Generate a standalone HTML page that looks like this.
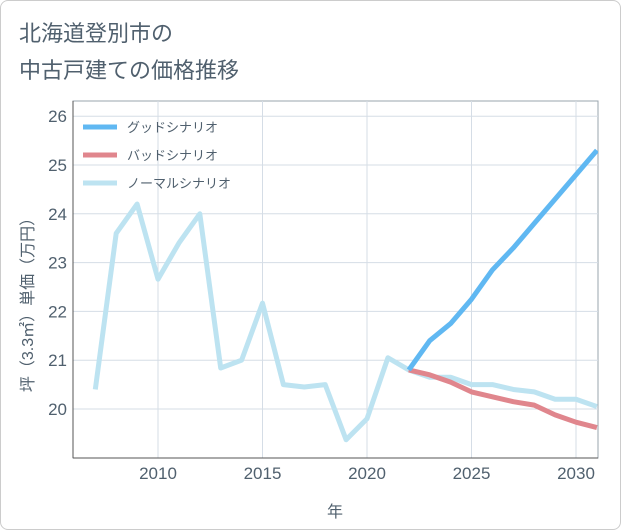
<!DOCTYPE html>
<html><head><meta charset="utf-8"><style>
body{margin:0;background:#fff;font-family:"Liberation Sans","Noto Sans CJK JP",sans-serif;}
#wrap{position:relative;width:619px;height:528px;border:1px solid #ccc;border-radius:8px;overflow:hidden;background:#fff}
</style></head><body>
<div id="wrap">
<svg id="c" width="621" height="530"></svg>
</div>
<script>
const years=[2007,2008,2009,2010,2011,2012,2013,2014,2015,2016,2017,2018,2019,2020,2021,2022,2023,2024,2025,2026,2027,2028,2029,2030,2031];
const normal=[20.4,23.6,24.2,22.66,23.4,24.0,20.84,21.0,22.17,20.5,20.45,20.5,19.37,19.8,21.05,20.8,20.65,20.65,20.5,20.5,20.4,20.35,20.2,20.2,20.05];
const goodYears=[2022,2023,2024,2025,2026,2027,2028,2029,2030,2031];
const good=[20.8,21.4,21.75,22.25,22.85,23.3,23.8,24.3,24.8,25.3];
const bad=[20.8,20.7,20.55,20.35,20.25,20.15,20.08,19.88,19.73,19.62];
const yTicks=[20,21,22,23,24,25,26];
const xTicks=[2010,2015,2020,2025,2030];
const NS="http://www.w3.org/2000/svg",s=document.getElementById('c');
const L=72,R=597,T=100,B=457,TC='#50606e';
const x=v=>157+(v-2010)*20.9, y=v=>408-(v-20)*48.8;
function el(t,a,p){const e=document.createElementNS(NS,t);for(const k in a)e.setAttribute(k,a[k]);(p||s).appendChild(e);return e;}
function tx(str,a){const e=el('text',a);e.textContent=str;return e;}
let t=tx('北海道登別市の',{x:18,y:40,'font-size':22,fill:TC});

t=tx('中古戸建ての価格推移',{x:18,y:77,'font-size':22,fill:TC});

let r=el('rect',{x:L,y:T,width:R-L,height:B-T,fill:'none',stroke:'#9aa4ae','stroke-width':1});

yTicks.forEach(v=>{let g=el('line',{x1:L,x2:R,y1:y(v),y2:y(v),stroke:'#d5dde6'});

let l=tx(v,{x:66,y:y(v)+6,'font-size':17,fill:TC,'text-anchor':'end'});
});
xTicks.forEach(v=>{let g=el('line',{x1:x(v),x2:x(v),y1:T,y2:B,stroke:'#d5dde6'});

let l=tx(v,{x:x(v),y:478,'font-size':17,fill:TC,'text-anchor':'middle'});
});
let ax=el('line',{x1:L,x2:L,y1:T,y2:B,stroke:'#555'});

ax=el('line',{x1:L,x2:R,y1:B,y2:B,stroke:'#555'});

t=tx('年',{x:334,y:516,'font-size':16,fill:TC,'text-anchor':'middle'});

t=tx('坪（3.3㎡）単価（万円）',{x:0,y:0,'font-size':16,fill:TC,'text-anchor':'middle',transform:'translate(32,300) rotate(-90)'});

el('clipPath',{id:'cp'}).appendChild(el('rect',{x:L,y:T,width:R-L,height:B-T}));
function line(xs,vs,c,n){const p=el('polyline',{points:xs.map((a,i)=>x(a)+','+y(vs[i])).join(' '),fill:'none',stroke:c,'stroke-width':5,'stroke-linejoin':'round','clip-path':'url(#cp)'});
}
line(years,normal,'#bde3f1','normal-line');
line(goodYears,bad,'#e0868d','bad-line');
line(goodYears,good,'#60b8f2','good-line');
[['グッドシナリオ','#60b8f2'],['バッドシナリオ','#e0868d'],['ノーマルシナリオ','#bde3f1']].forEach((d,i)=>{
const yy=126+i*28;
let g=el('line',{x1:82,x2:116,y1:yy,y2:yy,stroke:d[1],'stroke-width':5});

let l=tx(d[0],{x:126,y:yy+5,'font-size':13,fill:TC});
});
</script>
</body></html>
